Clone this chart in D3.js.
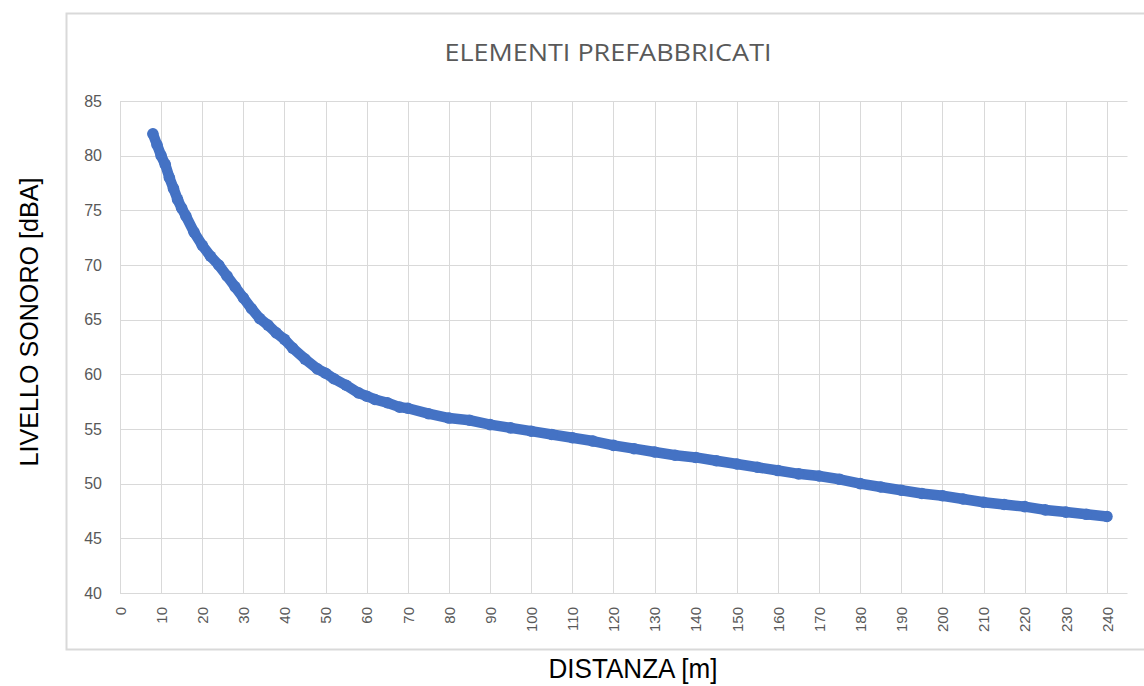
<!DOCTYPE html>
<html>
<head>
<meta charset="utf-8">
<script src="https://cdn.jsdelivr.net/npm/d3@7"></script>
<style>
  body { margin: 0; background: #fff; }
  svg { display: block; }
</style>
</head>
<body>
<div id="chart"></div>
<script>
// distance [m] and sound level [dBA]
var distanza = [8, 9, 10, 11, 12, 13, 14, 15, 16, 18, 20, 22, 24, 26, 28, 30, 32, 34, 36, 38,
	40, 42, 45, 48, 50, 52, 55, 58, 60, 62, 65, 68, 70, 75, 80, 85, 90, 95, 100, 105,
	110, 115, 120, 125, 130, 135, 140, 145, 150, 155, 160, 165, 170, 175, 180, 185, 190, 195,
	200, 205, 210, 215, 220, 225, 230, 235, 240];
var livello = [82.0, 81.0, 80.0, 79.2, 78.0, 77.0, 76.0, 75.2, 74.5, 73.0, 71.8, 70.8, 70.0, 69.0, 68.0, 67.0, 66.0, 65.1, 64.5, 63.8,
	63.2, 62.4, 61.4, 60.5, 60.1, 59.6, 59.0, 58.3, 58.0, 57.7, 57.4, 57.0, 56.9, 56.4, 56.0, 55.8, 55.4, 55.1, 54.8, 54.5,
	54.2, 53.9, 53.5, 53.2, 52.9, 52.6, 52.4, 52.1, 51.8, 51.5, 51.2, 50.9, 50.7, 50.4, 50.0, 49.7, 49.4, 49.1,
	48.9, 48.6, 48.3, 48.1, 47.9, 47.6, 47.4, 47.2, 47.0];
var xTicks = d3.range(0, 241, 10);
var yTicks = [40, 45, 50, 55, 60, 65, 70, 75, 80, 85];

var W = 1144, H = 686;
var svg = d3.select("#chart").append("svg").attr("width", W).attr("height", H);

// chart frame
svg.append("rect")
	.attr("x", 66.5).attr("y", 13.5)
	.attr("width", 1100).attr("height", 636)
	.attr("fill", "#fff")
	.attr("stroke", "#d9d9d9").attr("stroke-width", 2);

var x = d3.scaleLinear().domain([0, 245]).range([120, 1127.5]);
var y = d3.scaleLinear().domain([40, 85]).range([593, 101]);

// gridlines
svg.append("g").selectAll("line").data(yTicks).enter().append("line")
	.attr("x1", x(0)).attr("x2", x(245))
	.attr("y1", function(d) { return Math.round(y(d)) + 0.5; })
	.attr("y2", function(d) { return Math.round(y(d)) + 0.5; })
	.attr("stroke", "#d9d9d9").attr("stroke-width", 1);

svg.append("g").selectAll("line").data(xTicks).enter().append("line")
	.attr("x1", function(d) { return Math.round(x(d)) + 0.5; })
	.attr("x2", function(d) { return Math.round(x(d)) + 0.5; })
	.attr("y1", y(85)).attr("y2", y(40))
	.attr("stroke", "#d9d9d9").attr("stroke-width", 1);

// y axis labels
var yAxis = d3.axisLeft(y).tickValues(yTicks).tickSize(0).tickPadding(18);
var gy = svg.append("g").attr("transform", "translate(" + x(0) + ",0)").call(yAxis);
gy.select(".domain").remove();
gy.selectAll("text")
	.style("font-family", "Liberation Sans, Arial, sans-serif")
	.style("font-size", "16px")
	.attr("fill", "#595959");

// x axis labels, rotated
var xAxis = d3.axisBottom(x).tickValues(xTicks).tickSize(0).tickPadding(0);
var gx = svg.append("g").attr("transform", "translate(0," + y(40) + ")").call(xAxis);
gx.select(".domain").remove();
gx.selectAll("text")
	.style("font-family", "Liberation Sans, Arial, sans-serif")
	.style("font-size", "15px")
	.attr("fill", "#595959")
	.attr("text-anchor", "end")
	.attr("y", 0).attr("dy", "0.35em")
	.attr("transform", "translate(0,14) rotate(-90)");

// series
var pts = distanza.map(function(d, i) { return [d, livello[i]]; });
var line = d3.line()
	.x(function(d) { return x(d[0]); })
	.y(function(d) { return y(d[1]); });

svg.append("path")
	.datum(pts)
	.attr("d", line)
	.attr("fill", "none")
	.attr("stroke", "#4472c4")
	.attr("stroke-width", 10.5)
	.attr("stroke-linejoin", "round")
	.attr("stroke-linecap", "round");

svg.append("g").selectAll("circle").data(pts).enter().append("circle")
	.attr("cx", function(d) { return x(d[0]); })
	.attr("cy", function(d) { return y(d[1]); })
	.attr("r", 5.8)
	.attr("fill", "#4472c4");

// titles
svg.append("text")
	.attr("x", 608).attr("y", 61)
	.attr("text-anchor", "middle")
	.attr("textLength", 327).attr("lengthAdjust", "spacingAndGlyphs")
	.style("font-family", "Open Sans, sans-serif")
	.style("font-size", "24px")
	.attr("fill", "#595959")
	.text("ELEMENTI PREFABBRICATI");

svg.append("text")
	.attr("transform", "translate(38,322) rotate(-90)")
	.attr("text-anchor", "middle")
	.attr("textLength", 289).attr("lengthAdjust", "spacingAndGlyphs")
	.style("font-family", "Liberation Sans Narrow, Arial Narrow, sans-serif")
	.style("font-size", "26px")
	.attr("fill", "#000")
	.text("LIVELLO SONORO [dBA]");

svg.append("text")
	.attr("x", 633).attr("y", 678)
	.attr("text-anchor", "middle")
	.attr("textLength", 169).attr("lengthAdjust", "spacingAndGlyphs")
	.style("font-family", "Liberation Sans Narrow, Arial Narrow, sans-serif")
	.style("font-size", "28px")
	.attr("fill", "#000")
	.text("DISTANZA [m]");
</script>
</body>
</html>
